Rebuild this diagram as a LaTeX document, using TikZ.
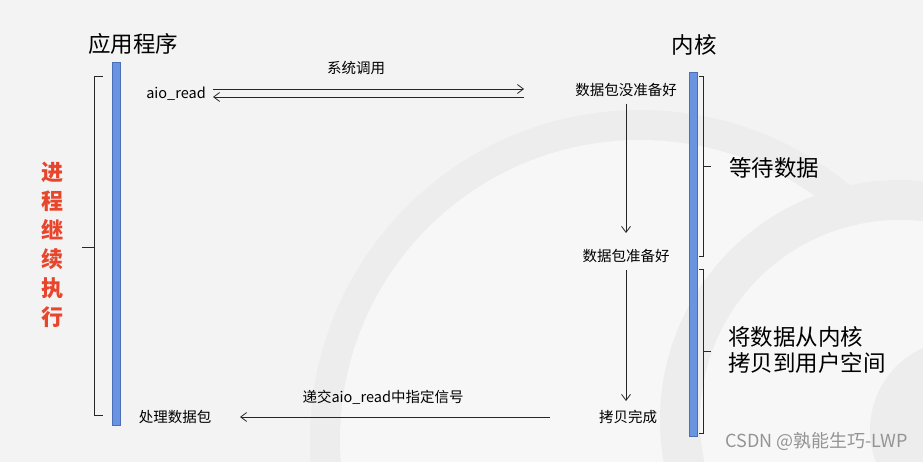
\documentclass[tikz,border=0pt]{standalone}
\usepackage{fontspec}
\setmainfont{Noto Sans CJK SC}
\usetikzlibrary{arrows.meta}
\definecolor{bgc}{HTML}{F3F3F3}
\definecolor{bgl}{HTML}{F7F7F7}
\definecolor{bgd}{HTML}{EDEDED}
\definecolor{barc}{HTML}{6A93E0}
\definecolor{bard}{HTML}{4A6FB8}
\definecolor{redc}{HTML}{E8462C}
\tikzset{
  bar/.style={fill=barc, draw=bard, line width=0.6pt},
  brk/.style={draw=black!85, line width=0.8pt},
  arr/.style={draw=black!85, line width=0.8pt, -{Straight Barb[length=6pt,width=9pt]}},
  small/.style={font=\fontsize{14.5}{17}\selectfont, inner sep=0pt},
  big/.style={font=\fontsize{22.5}{26.5}\selectfont, inner sep=0pt},
}
\begin{document}
\begin{tikzpicture}[x=1pt,y=-1pt]
\useasboundingbox (0,0) rectangle (923,462);
% background
\fill[bgc] (0,0) rectangle (923,462);
\begin{scope}
\clip (0,0) rectangle (923,462);
\fill[bgd] (640,440) circle (330);
\fill[bgl] (640,440) circle (300);
\fill[bgd] (900,420) circle (240);
\fill[bgl] (900,420) circle (200);
\fill[bgd] (960,430) circle (90);
\end{scope}
% titles
\node[big] (app) at (133,44) {应用程序};
\node[big] (ker) at (694,45) {内核};
% bars
\draw[bar] (112,62) rectangle (120,425);
\draw[bar] (689,72) rectangle (697,436);
% left bracket
\draw[brk] (103,76) -- (94,76) -- (94,415) -- (103,415);
\draw[brk] (94,247) -- (82,247);
% right brackets
\draw[brk] (699,76) -- (703,76) -- (703,256) -- (699,256);
\draw[brk] (703,166) -- (711,166);
\draw[brk] (699,269) -- (703,269) -- (703,433) -- (699,433);
\draw[brk] (703,351) -- (711,351);
% red label
\node[font=\fontsize{22}{29}\selectfont\bfseries, text=redc, align=center, inner sep=0pt] (cont) at (52,245) {进\\程\\继\\续\\执\\行};
% texts
\node[small] (aio) at (176,94) {aio\_read};
\node[small] (sys) at (356,68) {系统调用};
\node[small] (nr) at (626,90) {数据包没准备好};
\node[small] (rd) at (626,256) {数据包准备好};
\node[small] (cp) at (628,417) {拷贝完成};
\node[small] (proc) at (175,417) {处理数据包};
\node[small] (sig) at (383,397) {递交aio\_read中指定信号};
\node[big] (wait) at (774,168) {等待数据};
\node[big, align=left, anchor=west] (copy) at (728,350) {将数据从内核\\拷贝到用户空间};
\node[font=\fontsize{18}{21}\selectfont, text=black!42, inner sep=0pt, anchor=east] (wm) at (908,441) {CSDN @孰能生巧-LWP};
% arrows
\coordinate (a1s) at (213,89);
\coordinate (a1e) at (524,89);
\coordinate (a2s) at (524,97);
\coordinate (a2e) at (213,97);
\draw[arr] (a1s) -- (a1e);
\draw[arr] (a2s) -- (a2e);
\draw[arr] (nr.south -| 626,0) ++(0,7) -- (626,233);
\draw[arr] (rd.south -| 626,0) ++(0,7) -- (626,401);
\draw[arr] (550,417) -- (240,417);
\end{tikzpicture}
\end{document}
